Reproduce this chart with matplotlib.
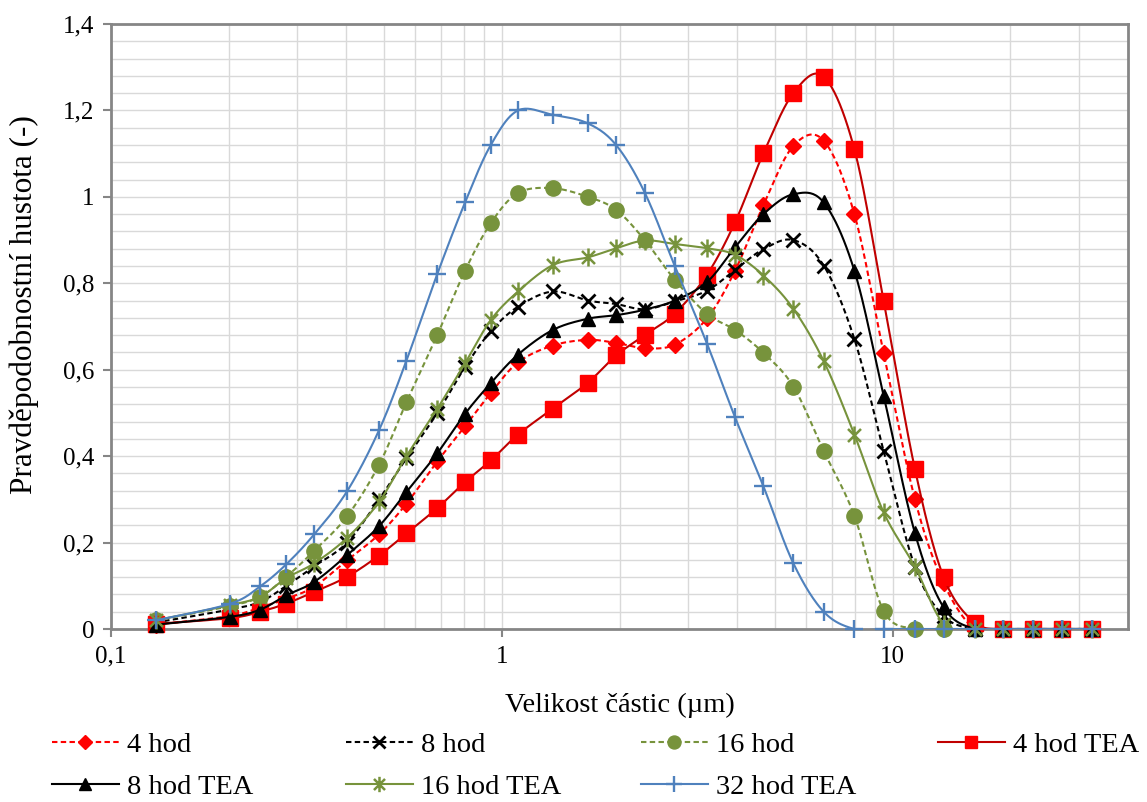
import numpy as np
import matplotlib
matplotlib.use("Agg")
import matplotlib.pyplot as plt
from matplotlib.path import Path
from matplotlib.lines import Line2D

plt.rcParams['font.family'] = ['Liberation Serif', 'DejaVu Serif']

# Particle size classes (µm)
size_um = [0.130, 0.201, 0.241, 0.281, 0.331, 0.402, 0.485, 0.570, 0.684, 0.805,
           0.937, 1.10, 1.35, 1.66, 1.96, 2.32, 2.77, 3.35, 3.95, 4.67,
           5.57, 6.66, 7.98, 9.48, 11.4, 13.5, 16.2, 19.2, 22.8, 27.1, 32.4]

# Probability density for each milling time
h4 = [0.01, 0.03, 0.05, 0.07, 0.098, 0.159, 0.219, 0.29, 0.388, 0.469,
      0.546, 0.617, 0.656, 0.669, 0.662, 0.65, 0.658, 0.719, 0.829, 0.981,
      1.118, 1.13, 0.96, 0.639, 0.30, 0.106, 0, 0, 0, 0, 0]
h8 = [0.015, 0.045, 0.063, 0.10, 0.145, 0.20, 0.30, 0.395, 0.50, 0.606,
      0.689, 0.746, 0.781, 0.76, 0.752, 0.74, 0.758, 0.783, 0.831, 0.879,
      0.90, 0.841, 0.671, 0.412, 0.144, 0.03, 0, 0, 0, 0, 0]
h16 = [0.02, 0.053, 0.075, 0.121, 0.181, 0.261, 0.38, 0.525, 0.681, 0.829,
       0.939, 1.009, 1.02, 1.0, 0.97, 0.90, 0.808, 0.729, 0.692, 0.639,
       0.561, 0.412, 0.262, 0.042, 0, 0, 0, 0, 0, 0, 0]
h4_tea = [0.012, 0.025, 0.04, 0.059, 0.086, 0.121, 0.17, 0.221, 0.28, 0.34,
          0.39, 0.45, 0.51, 0.57, 0.633, 0.68, 0.73, 0.82, 0.941, 1.101,
          1.24, 1.278, 1.11, 0.76, 0.37, 0.12, 0.015, 0, 0, 0, 0]
h8_tea = [0.01, 0.028, 0.045, 0.078, 0.109, 0.171, 0.238, 0.317, 0.407, 0.498,
          0.569, 0.635, 0.692, 0.718, 0.726, 0.739, 0.76, 0.803, 0.883, 0.96,
          1.006, 0.987, 0.829, 0.54, 0.222, 0.05, 0, 0, 0, 0, 0]
h16_tea = [0.02, 0.055, 0.075, 0.118, 0.152, 0.211, 0.294, 0.40, 0.51, 0.615,
           0.715, 0.781, 0.842, 0.86, 0.881, 0.899, 0.891, 0.881, 0.866, 0.818,
           0.741, 0.62, 0.45, 0.27, 0.144, 0.012, 0, 0, 0, 0, 0]
h32_tea = [0.02, 0.058, 0.099, 0.15, 0.219, 0.319, 0.46, 0.621, 0.822, 0.987,
           1.12, 1.2, 1.19, 1.17, 1.12, 1.01, 0.84, 0.66, 0.49, 0.33,
           0.152, 0.04, 0, 0, 0, 0, 0, 0, 0, 0, 0]

labels = ['4 hod', '8 hod', '16 hod', '4 hod TEA', '8 hod TEA', '16 hod TEA', '32 hod TEA']

RED = '#FF0000'
DARKRED = '#C00000'
GREEN = '#77933C'
BLUE = '#4F81BD'

# six-armed asterisk marker (vertical bar + X)
star = Path([(0, -1), (0, 1), (-0.72, -0.72), (0.72, 0.72), (-0.72, 0.72), (0.72, -0.72)],
            [Path.MOVETO, Path.LINETO, Path.MOVETO, Path.LINETO, Path.MOVETO, Path.LINETO])

dash = (2.6, 1.6)
styles = [
    dict(color=RED, ls='--', dashes=dash, marker='D', ms=8.5, mfc=RED, mec=RED),
    dict(color='black', ls='--', dashes=dash, marker='x', ms=10, mew=2.0, mec='black'),
    dict(color=GREEN, ls='--', dashes=dash, marker='o', ms=11, mfc=GREEN, mec=GREEN),
    dict(color=DARKRED, ls='-', marker='s', ms=11, mfc=RED, mec=RED),
    dict(color='black', ls='-', marker='^', ms=10.5, mfc='black', mec='black'),
    dict(color=GREEN, ls='-', marker=star, ms=13, mew=1.8, mfc='none', mec=GREEN),
    dict(color=BLUE, ls='-', marker='+', ms=13, mew=1.7, mec=BLUE),
]
series = [h4, h8, h16, h4_tea, h8_tea, h16_tea, h32_tea]


def smooth(x, y, n=24):
    """Bezier smoothing (Catmull-Rom) in log-x / linear-y space."""
    u = np.log10(np.asarray(x, float))
    v = np.asarray(y, float)
    P = np.column_stack([u, v])
    Pe = np.vstack([P[0], P, P[-1]])
    t = np.linspace(0, 1, n)[:, None]
    out = []
    for i in range(len(P) - 1):
        p0, p1, p2, p3 = Pe[i], Pe[i + 1], Pe[i + 2], Pe[i + 3]
        c1 = p1 + (p2 - p0) / 6.0
        c2 = p2 - (p3 - p1) / 6.0
        seg = ((1 - t) ** 3) * p1 + 3 * ((1 - t) ** 2) * t * c1 + 3 * (1 - t) * t ** 2 * c2 + t ** 3 * p2
        out.append(seg if i == 0 else seg[1:])
    out = np.vstack(out)
    return 10 ** out[:, 0], out[:, 1]


W, H = 1147, 802
fig = plt.figure(figsize=(W / 100, H / 100), dpi=100)
ax = fig.add_axes([111 / W, 1 - 629 / H, (1128 - 111) / W, (629 - 24) / H])

handles = []
for k, (vals, st) in enumerate(zip(series, styles)):
    xs, ys = smooth(size_um, vals)
    line_kw = dict(color=st['color'], lw=1.5, ls=st['ls'], zorder=3 + k)
    if 'dashes' in st:
        line_kw['dashes'] = st['dashes']
    ax.plot(xs, ys, solid_capstyle='round', **line_kw)
    mk = {kk: st[kk] for kk in ('marker', 'ms', 'mew', 'mfc', 'mec') if kk in st}
    ax.plot(size_um, vals, ls='none', zorder=3.5 + k, clip_on=False, **mk)
    h_kw = dict(color=st['color'], lw=1.5, ls=st['ls'])
    if 'dashes' in st:
        h_kw['dashes'] = st['dashes']
    hmk = dict(mk)
    hmk['ms'] = mk['ms'] * 0.85
    handles.append(Line2D([], [], **h_kw, **hmk))

ax.set_xscale('log')
ax.set_xlim(0.1, 40)
ax.set_ylim(0, 1.4)

ax.set_xticks([0.1, 1, 10])
ax.set_xticklabels(['0,1', '1', '10'])
ax.set_xticks([m * 10.0 ** e for e in (-1, 0, 1) for m in range(2, 10) if m * 10.0 ** e < 40],
              minor=True)
ax.set_yticks(np.arange(0, 1.41, 0.2))
ax.set_yticklabels(['0', '0,2', '0,4', '0,6', '0,8', '1', '1,2', '1,4'])
ax.set_yticks(np.arange(0, 1.401, 0.04), minor=True)

ax.grid(True, which='both', color='#D9D9D9', lw=1.0, zorder=0)
ax.set_axisbelow(True)
ax.tick_params(axis='both', which='major', labelsize=18, length=6, width=1.5,
               color='#868686', direction='out', pad=6)
ax.tick_params(axis='both', which='minor', length=0)
for s in ax.spines.values():
    s.set_color('#868686')
    s.set_linewidth(2)

ax.set_xlabel('Velikost částic (µm)', fontsize=20.5, labelpad=18)
ax.set_ylabel('Pravděpodobnostní hustota (-)', fontsize=22.5, va='center')
ax.yaxis.set_label_coords(-0.085, (629 - 305) / 605)

# legend: four equally spaced columns, two rows
col_x = [52, 346, 641, 938]
cols = [[0, 4], [1, 5], [2, 6], [3]]
for cx, idx in zip(col_x, cols):
    fig.legend([handles[i] for i in idx], [labels[i] for i in idx],
               loc='upper left', bbox_to_anchor=(cx / W, 1 - 732 / H),
               frameon=False, fontsize=20.5, borderpad=0, borderaxespad=0,
               handlelength=2.35, handletextpad=0.3, labelspacing=0.55)

fig.savefig('out.png', dpi=100)
